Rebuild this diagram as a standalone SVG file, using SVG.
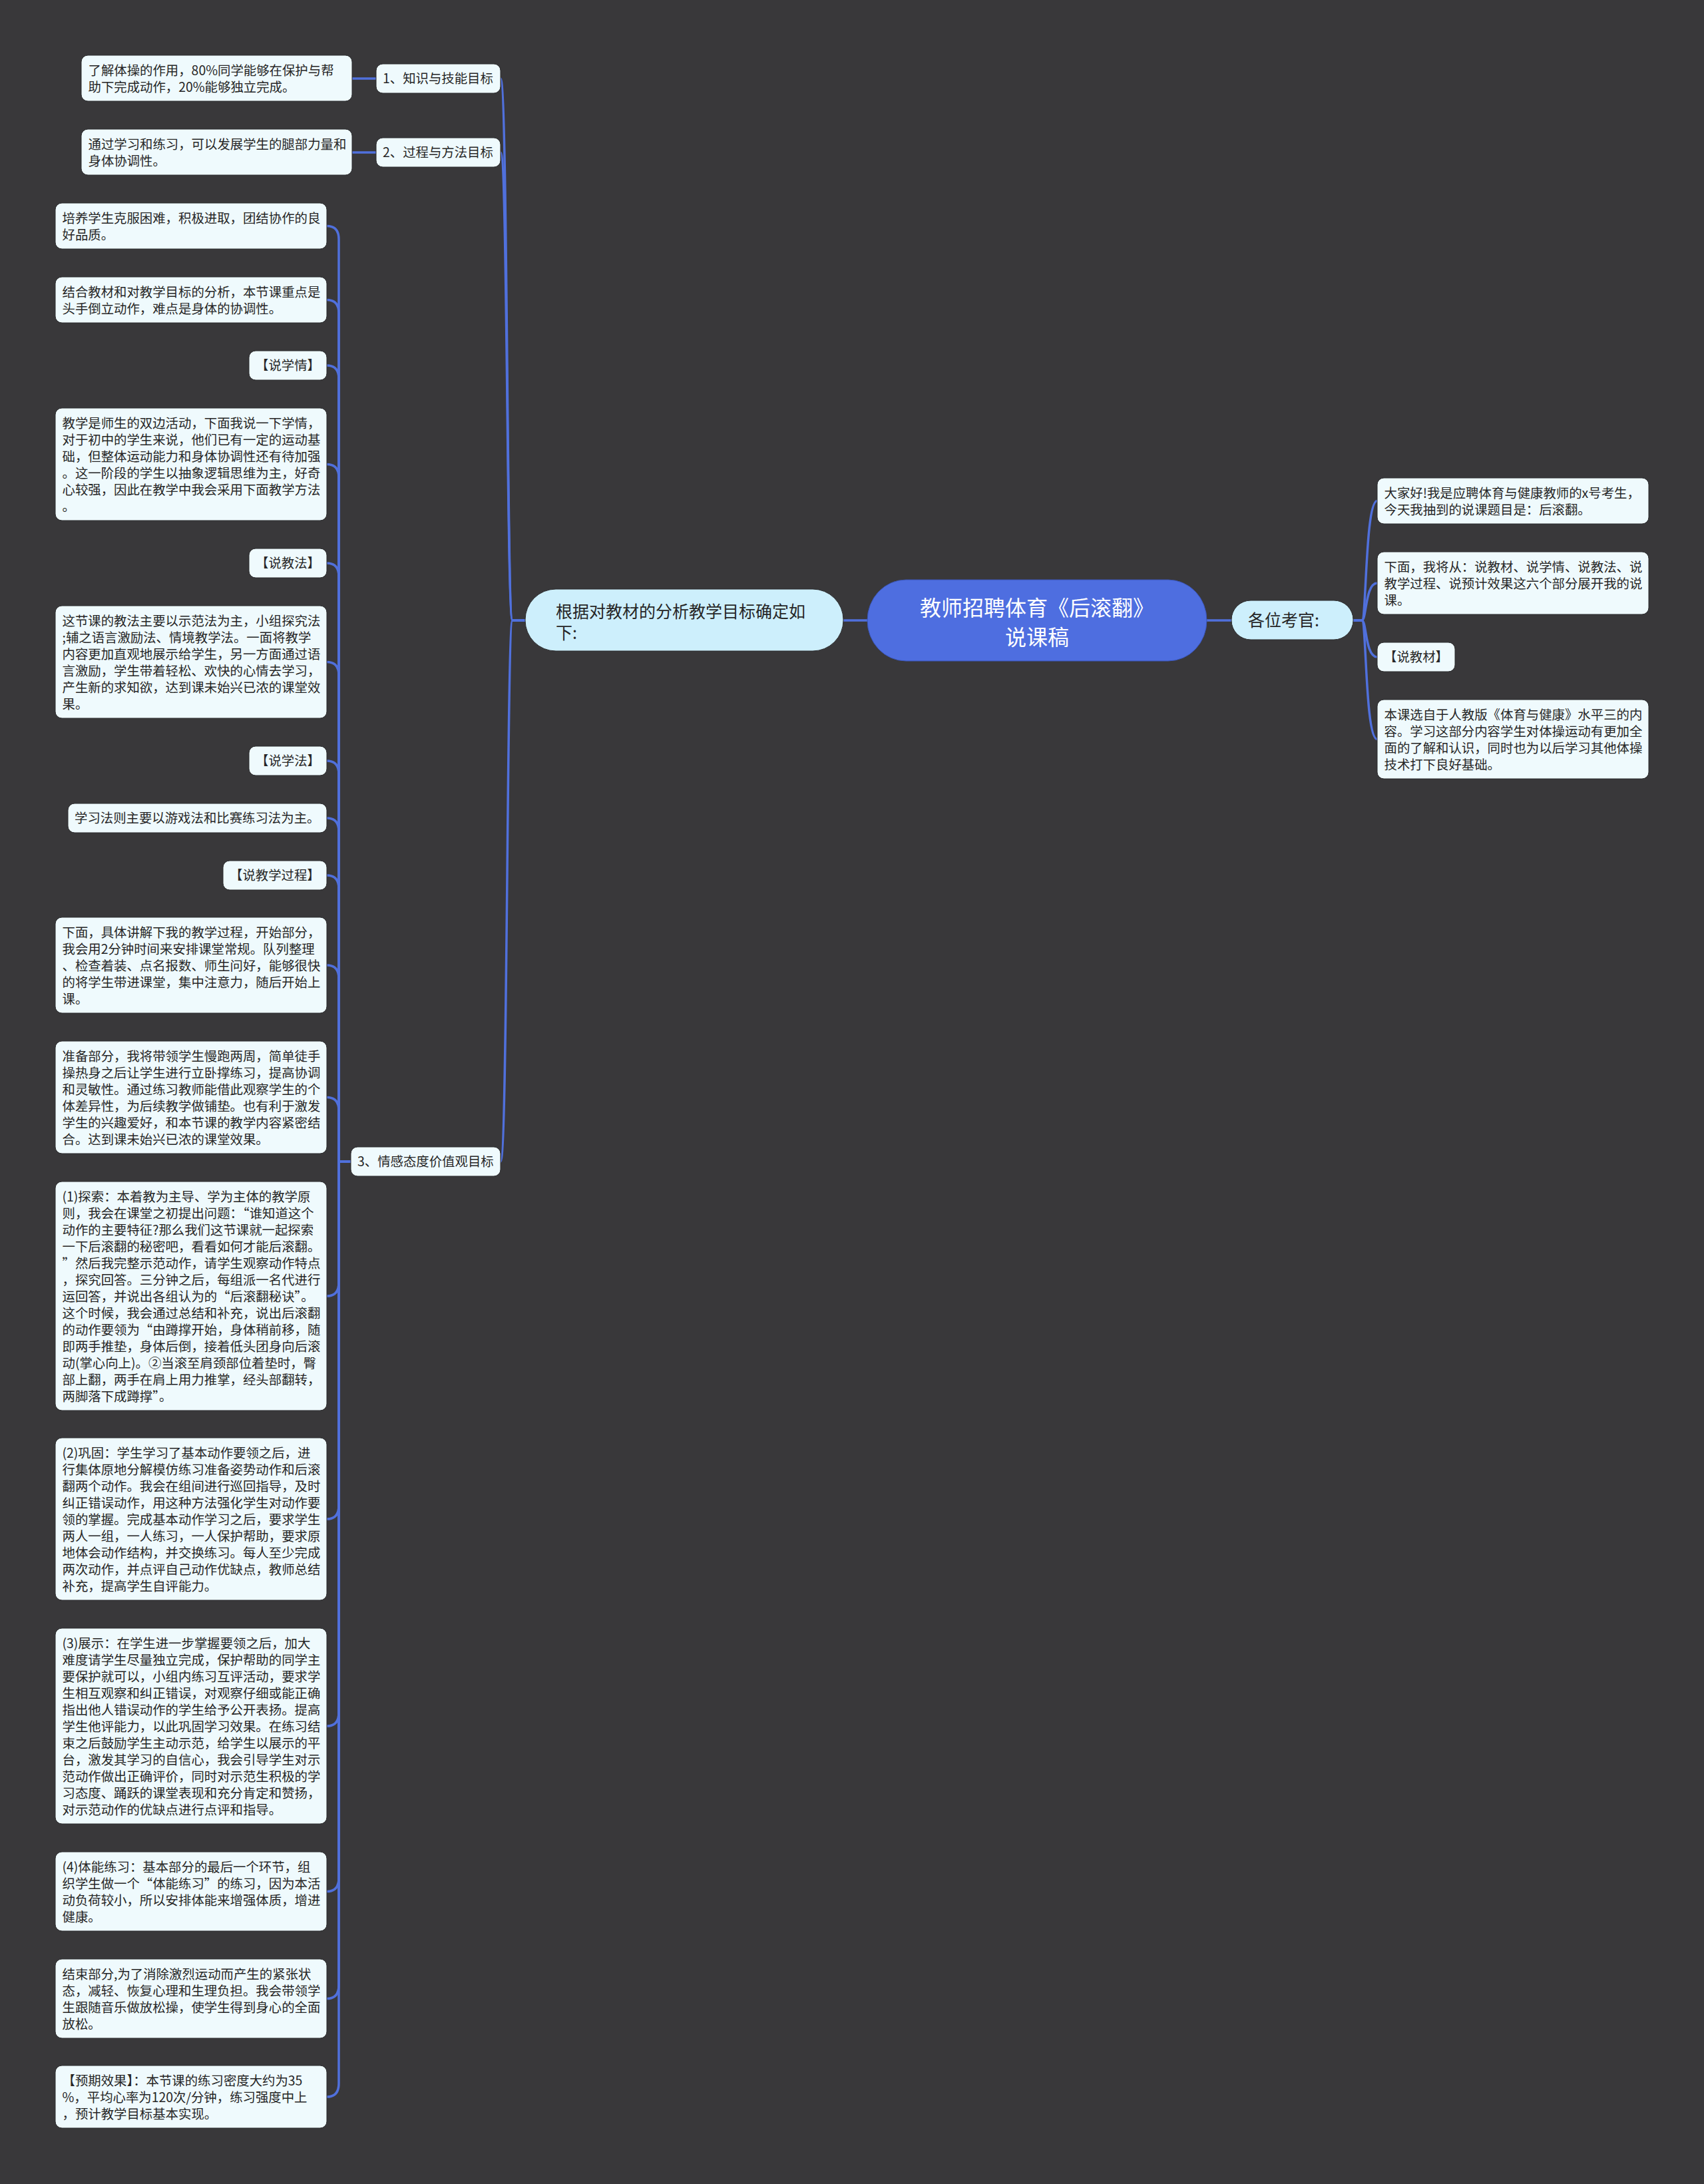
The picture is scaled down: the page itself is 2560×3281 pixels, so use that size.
<svg xmlns="http://www.w3.org/2000/svg" width="2560" height="3281" viewBox="0 0 2560 3281">
<style>
.bg{fill:#39383a}
.leaf{fill:#effafd;stroke:#2a2a2c;stroke-width:1}
.sub{fill:#cdeffc;stroke:#2a2a2c;stroke-width:1}
.root{fill:#4e6ee0;stroke:#3a55b8;stroke-width:1}
.t{font-family:"Noto Sans CJK SC","Noto Sans",sans-serif;font-size:19.4px;fill:#262626}
.ts{font-family:"Noto Sans CJK SC","Noto Sans",sans-serif;font-size:25px;fill:#262626}
.tr{font-family:"Noto Sans CJK SC","Noto Sans",sans-serif;font-size:32px;fill:#ffffff;text-anchor:middle}
.c{fill:none;stroke:#5070dc;stroke-width:3.5;stroke-linecap:round}
</style>
<rect class="bg" x="0" y="0" width="2560" height="3281"/>

<g id="connectors">
<path class="c" d="M1303 932H1267"/>
<path class="c" d="M1813 932H1850"/>
<path class="c" d="M789 932H770C761 932 763 118 752 118"/>
<path class="c" d="M789 932H770C761 932 763 229 752 229"/>
<path class="c" d="M789 932H770C761 932 763 1745 752 1745"/>
<path class="c" d="M565 118H529"/>
<path class="c" d="M565 229H529"/>
<path class="c" d="M527 1745H509V359.5Q509 339.5 491 339.5"/>
<path class="c" d="M527 1745H509V470.5Q509 450.5 491 450.5"/>
<path class="c" d="M527 1745H509V569Q509 549 491 549"/>
<path class="c" d="M527 1745H509V717.5Q509 697.5 491 697.5"/>
<path class="c" d="M527 1745H509V866Q509 846 491 846"/>
<path class="c" d="M527 1745H509V1014.5Q509 994.5 491 994.5"/>
<path class="c" d="M527 1745H509V1163Q509 1143 491 1143"/>
<path class="c" d="M527 1745H509V1249Q509 1229 491 1229"/>
<path class="c" d="M527 1745H509V1335Q509 1315 491 1315"/>
<path class="c" d="M527 1745H509V1470Q509 1450 491 1450"/>
<path class="c" d="M527 1745H509V1668.5Q509 1648.5 491 1648.5"/>
<path class="c" d="M527 1745H509V1927Q509 1947 491 1947"/>
<path class="c" d="M527 1745H509V2262Q509 2282 491 2282"/>
<path class="c" d="M527 1745H509V2573Q509 2593 491 2593"/>
<path class="c" d="M527 1745H509V2821.5Q509 2841.5 491 2841.5"/>
<path class="c" d="M527 1745H509V2982.5Q509 3002.5 491 3002.5"/>
<path class="c" d="M527 1745H509V3130Q509 3150 491 3150"/>
<path class="c" d="M2033 932H2046C2053 932 2051 752.5 2069 752.5"/>
<path class="c" d="M2033 932H2046C2053 932 2051 876 2069 876"/>
<path class="c" d="M2033 932H2046C2053 932 2051 987 2069 987"/>
<path class="c" d="M2033 932H2046C2053 932 2051 1110.5 2069 1110.5"/>
</g>

<g id="root">
<rect class="root" x="1303" y="871" width="510" height="122" rx="58" ry="61"/>
<text class="tr"><tspan x="1558" y="925">教师招聘体育《后滚翻》</tspan><tspan x="1558" y="969">说课稿</tspan></text>
</g>

<g id="branch-left">
<rect class="sub" x="789" y="885" width="478" height="93" rx="46"/>
<text class="ts"><tspan x="835" y="927.5">根据对教材的分析教学目标确定如</tspan><tspan x="835" y="959.5">下:</tspan></text>
</g>

<g id="branch-right">
<rect class="sub" x="1850" y="902" width="183" height="59" rx="29"/>
<text class="ts" x="1875" y="941">各位考官:</text>
</g>

<g id="goal1">
<rect class="leaf" x="565" y="96" width="187" height="44" rx="10"/>
<text class="t" x="575" y="125">1、知识与技能目标</text>
</g>
<g id="goal1-leaf">
<rect class="leaf" x="122" y="83" width="407" height="69" rx="10"/>
<text class="t"><tspan x="132.5" y="112.5">了解体操的作用，80%同学能够在保护与帮</tspan><tspan x="132.5" y="137.5">助下完成动作，20%能够独立完成。</tspan></text>
</g>
<g id="goal2">
<rect class="leaf" x="565" y="207" width="187" height="44" rx="10"/>
<text class="t" x="575" y="236">2、过程与方法目标</text>
</g>
<g id="goal2-leaf">
<rect class="leaf" x="122" y="194" width="407" height="69" rx="10"/>
<text class="t"><tspan x="132.5" y="223.5">通过学习和练习，可以发展学生的腿部力量和</tspan><tspan x="132.5" y="248.5">身体协调性。</tspan></text>
</g>
<g id="goal3">
<rect class="leaf" x="527" y="1723" width="225" height="44" rx="10"/>
<text class="t" x="537" y="1752">3、情感态度价值观目标</text>
</g>

<g id="c1">
<rect class="leaf" x="83" y="305" width="408" height="69" rx="10"/>
<text class="t"><tspan x="93.5" y="334.5">培养学生克服困难，积极进取，团结协作的良</tspan><tspan x="93.5" y="359.5">好品质。</tspan></text>
</g>
<g id="c2">
<rect class="leaf" x="83" y="416" width="408" height="69" rx="10"/>
<text class="t"><tspan x="93.5" y="445.5">结合教材和对教学目标的分析，本节课重点是</tspan><tspan x="93.5" y="470.5">头手倒立动作，难点是身体的协调性。</tspan></text>
</g>
<g id="c3">
<rect class="leaf" x="374" y="527" width="117" height="44" rx="10"/>
<text class="t" x="384" y="556">【说学情】</text>
</g>
<g id="c4">
<rect class="leaf" x="83" y="613" width="408" height="169" rx="10"/>
<text class="t"><tspan x="93.5" y="642.5">教学是师生的双边活动，下面我说一下学情，</tspan><tspan x="93.5" dy="25">对于初中的学生来说，他们已有一定的运动基</tspan><tspan x="93.5" dy="25">础，但整体运动能力和身体协调性还有待加强</tspan><tspan x="93.5" dy="25">。这一阶段的学生以抽象逻辑思维为主，好奇</tspan><tspan x="93.5" dy="25">心较强，因此在教学中我会采用下面教学方法</tspan><tspan x="93.5" dy="25">。</tspan></text>
</g>
<g id="c5">
<rect class="leaf" x="374" y="824" width="117" height="44" rx="10"/>
<text class="t" x="384" y="853">【说教法】</text>
</g>
<g id="c6">
<rect class="leaf" x="83" y="910" width="408" height="169" rx="10"/>
<text class="t"><tspan x="93.5" y="939.5">这节课的教法主要以示范法为主，小组探究法</tspan><tspan x="93.5" dy="25">;辅之语言激励法、情境教学法。一面将教学</tspan><tspan x="93.5" dy="25">内容更加直观地展示给学生，另一方面通过语</tspan><tspan x="93.5" dy="25">言激励，学生带着轻松、欢快的心情去学习，</tspan><tspan x="93.5" dy="25">产生新的求知欲，达到课未始兴已浓的课堂效</tspan><tspan x="93.5" dy="25">果。</tspan></text>
</g>
<g id="c7">
<rect class="leaf" x="374" y="1121" width="117" height="44" rx="10"/>
<text class="t" x="384" y="1150">【说学法】</text>
</g>
<g id="c8">
<rect class="leaf" x="102" y="1207" width="389" height="44" rx="10"/>
<text class="t" x="112" y="1236">学习法则主要以游戏法和比赛练习法为主。</text>
</g>
<g id="c9">
<rect class="leaf" x="335" y="1293" width="156" height="44" rx="10"/>
<text class="t" x="345" y="1322">【说教学过程】</text>
</g>
<g id="c10">
<rect class="leaf" x="83" y="1378" width="408" height="144" rx="10"/>
<text class="t"><tspan x="93.5" y="1407.5">下面，具体讲解下我的教学过程，开始部分，</tspan><tspan x="93.5" dy="25">我会用2分钟时间来安排课堂常规。队列整理</tspan><tspan x="93.5" dy="25">、检查着装、点名报数、师生问好，能够很快</tspan><tspan x="93.5" dy="25">的将学生带进课堂，集中注意力，随后开始上</tspan><tspan x="93.5" dy="25">课。</tspan></text>
</g>
<g id="c11">
<rect class="leaf" x="83" y="1564" width="408" height="169" rx="10"/>
<text class="t"><tspan x="93.5" y="1593.5">准备部分，我将带领学生慢跑两周，简单徒手</tspan><tspan x="93.5" dy="25">操热身之后让学生进行立卧撑练习，提高协调</tspan><tspan x="93.5" dy="25">和灵敏性。通过练习教师能借此观察学生的个</tspan><tspan x="93.5" dy="25">体差异性，为后续教学做铺垫。也有利于激发</tspan><tspan x="93.5" dy="25">学生的兴趣爱好，和本节课的教学内容紧密结</tspan><tspan x="93.5" dy="25">合。达到课未始兴已浓的课堂效果。</tspan></text>
</g>
<g id="c12">
<rect class="leaf" x="83" y="1775" width="408" height="344" rx="10"/>
<text class="t"><tspan x="93.5" y="1804.5">(1)探索：本着教为主导、学为主体的教学原</tspan><tspan x="93.5" dy="25">则，我会在课堂之初提出问题：“谁知道这个</tspan><tspan x="93.5" dy="25">动作的主要特征?那么我们这节课就一起探索</tspan><tspan x="93.5" dy="25">一下后滚翻的秘密吧，看看如何才能后滚翻。</tspan><tspan x="93.5" dy="25">”然后我完整示范动作，请学生观察动作特点</tspan><tspan x="93.5" dy="25">，探究回答。三分钟之后，每组派一名代进行</tspan><tspan x="93.5" dy="25">运回答，并说出各组认为的“后滚翻秘诀”。</tspan><tspan x="93.5" dy="25">这个时候，我会通过总结和补充，说出后滚翻</tspan><tspan x="93.5" dy="25">的动作要领为“由蹲撑开始，身体稍前移，随</tspan><tspan x="93.5" dy="25">即两手推垫，身体后倒，接着低头团身向后滚</tspan><tspan x="93.5" dy="25">动(掌心向上)。②当滚至肩颈部位着垫时，臀</tspan><tspan x="93.5" dy="25">部上翻，两手在肩上用力推掌，经头部翻转，</tspan><tspan x="93.5" dy="25">两脚落下成蹲撑”。</tspan></text>
</g>
<g id="c13">
<rect class="leaf" x="83" y="2160" width="408" height="244" rx="10"/>
<text class="t"><tspan x="93.5" y="2189.5">(2)巩固：学生学习了基本动作要领之后，进</tspan><tspan x="93.5" dy="25">行集体原地分解模仿练习准备姿势动作和后滚</tspan><tspan x="93.5" dy="25">翻两个动作。我会在组间进行巡回指导，及时</tspan><tspan x="93.5" dy="25">纠正错误动作，用这种方法强化学生对动作要</tspan><tspan x="93.5" dy="25">领的掌握。完成基本动作学习之后，要求学生</tspan><tspan x="93.5" dy="25">两人一组，一人练习，一人保护帮助，要求原</tspan><tspan x="93.5" dy="25">地体会动作结构，并交换练习。每人至少完成</tspan><tspan x="93.5" dy="25">两次动作，并点评自己动作优缺点，教师总结</tspan><tspan x="93.5" dy="25">补充，提高学生自评能力。</tspan></text>
</g>
<g id="c14">
<rect class="leaf" x="83" y="2446" width="408" height="294" rx="10"/>
<text class="t"><tspan x="93.5" y="2475.5">(3)展示：在学生进一步掌握要领之后，加大</tspan><tspan x="93.5" dy="25">难度请学生尽量独立完成，保护帮助的同学主</tspan><tspan x="93.5" dy="25">要保护就可以，小组内练习互评活动，要求学</tspan><tspan x="93.5" dy="25">生相互观察和纠正错误，对观察仔细或能正确</tspan><tspan x="93.5" dy="25">指出他人错误动作的学生给予公开表扬。提高</tspan><tspan x="93.5" dy="25">学生他评能力，以此巩固学习效果。在练习结</tspan><tspan x="93.5" dy="25">束之后鼓励学生主动示范，给学生以展示的平</tspan><tspan x="93.5" dy="25">台，激发其学习的自信心，我会引导学生对示</tspan><tspan x="93.5" dy="25">范动作做出正确评价，同时对示范生积极的学</tspan><tspan x="93.5" dy="25">习态度、踊跃的课堂表现和充分肯定和赞扬，</tspan><tspan x="93.5" dy="25">对示范动作的优缺点进行点评和指导。</tspan></text>
</g>
<g id="c15">
<rect class="leaf" x="83" y="2782" width="408" height="119" rx="10"/>
<text class="t"><tspan x="93.5" y="2811.5">(4)体能练习：基本部分的最后一个环节，组</tspan><tspan x="93.5" dy="25">织学生做一个“体能练习”的练习，因为本活</tspan><tspan x="93.5" dy="25">动负荷较小，所以安排体能来增强体质，增进</tspan><tspan x="93.5" dy="25">健康。</tspan></text>
</g>
<g id="c16">
<rect class="leaf" x="83" y="2943" width="408" height="119" rx="10"/>
<text class="t"><tspan x="93.5" y="2972.5">结束部分,为了消除激烈运动而产生的紧张状</tspan><tspan x="93.5" dy="25">态，减轻、恢复心理和生理负担。我会带领学</tspan><tspan x="93.5" dy="25">生跟随音乐做放松操，使学生得到身心的全面</tspan><tspan x="93.5" dy="25">放松。</tspan></text>
</g>
<g id="c17">
<rect class="leaf" x="83" y="3103" width="408" height="94" rx="10"/>
<text class="t"><tspan x="93.5" y="3132.5">【预期效果】：本节课的练习密度大约为35</tspan><tspan x="93.5" dy="25">%，平均心率为120次/分钟，练习强度中上</tspan><tspan x="93.5" dy="25">，预计教学目标基本实现。</tspan></text>
</g>

<g id="r1">
<rect class="leaf" x="2069" y="718" width="408" height="69" rx="10"/>
<text class="t"><tspan x="2079.5" y="747.5">大家好!我是应聘体育与健康教师的x号考生，</tspan><tspan x="2079.5" dy="25">今天我抽到的说课题目是：后滚翻。</tspan></text>
</g>
<g id="r2">
<rect class="leaf" x="2069" y="829" width="408" height="94" rx="10"/>
<text class="t"><tspan x="2079.5" y="858.5">下面，我将从：说教材、说学情、说教法、说</tspan><tspan x="2079.5" dy="25">教学过程、说预计效果这六个部分展开我的说</tspan><tspan x="2079.5" dy="25">课。</tspan></text>
</g>
<g id="r3">
<rect class="leaf" x="2069" y="965" width="117" height="44" rx="10"/>
<text class="t" x="2079" y="994">【说教材】</text>
</g>
<g id="r4">
<rect class="leaf" x="2069" y="1051" width="408" height="119" rx="10"/>
<text class="t"><tspan x="2079.5" y="1080.5">本课选自于人教版《体育与健康》水平三的内</tspan><tspan x="2079.5" dy="25">容。学习这部分内容学生对体操运动有更加全</tspan><tspan x="2079.5" dy="25">面的了解和认识，同时也为以后学习其他体操</tspan><tspan x="2079.5" dy="25">技术打下良好基础。</tspan></text>
</g>
</svg>
